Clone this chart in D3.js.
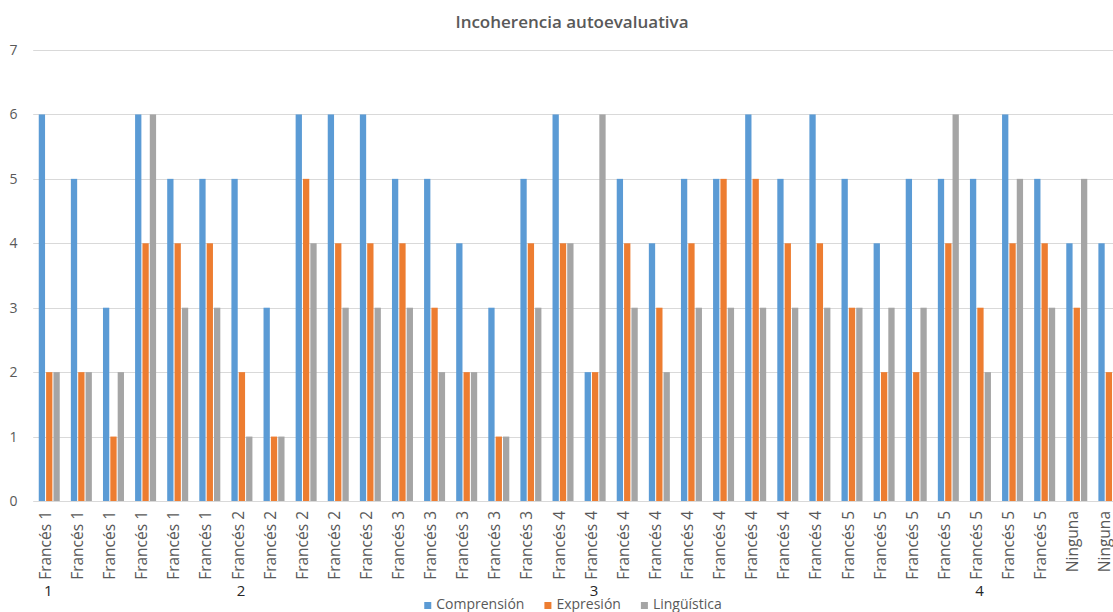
<!DOCTYPE html>
<html>
<head>
<meta charset="utf-8">
<script src="https://cdn.jsdelivr.net/npm/d3@7/dist/d3.min.js"></script>
<style>
  html, body { margin: 0; padding: 0; background: #fff; overflow: hidden; }
  svg { display: block; font-family: "Open Sans", "DejaVu Sans", sans-serif; }
</style>
</head>
<body>
<svg id="chart" width="1113" height="612"></svg>
<script>
// Course level of each respondent
const categories = [
  "Francés 1", "Francés 1", "Francés 1", "Francés 1", "Francés 1", "Francés 1",
  "Francés 2", "Francés 2", "Francés 2", "Francés 2", "Francés 2",
  "Francés 3", "Francés 3", "Francés 3", "Francés 3", "Francés 3",
  "Francés 4", "Francés 4", "Francés 4", "Francés 4", "Francés 4",
  "Francés 4", "Francés 4", "Francés 4", "Francés 4",
  "Francés 5", "Francés 5", "Francés 5", "Francés 5", "Francés 5",
  "Francés 5", "Francés 5",
  "Ninguna", "Ninguna"
];

// Secondary row of axis labels (category index, text)
const groupIndex = [0, 6, 17, 29];
const groupText = ["1", "2", "3", "4"];

const seriesNames = ["Comprensión", "Expresión", "Lingüística"];
const seriesColors = ["#5B9BD5", "#ED7D31", "#A5A5A5"];

const comprension = [6, 5, 3, 6, 5, 5, 5, 3, 6, 6, 6, 5, 5, 4, 3, 5, 6, 2, 5, 4, 5, 5, 6, 5, 6, 5, 4, 5, 5, 5, 6, 5, 4, 4];
const expresion   = [2, 2, 1, 4, 4, 4, 2, 1, 5, 4, 4, 4, 3, 2, 1, 4, 4, 2, 4, 3, 4, 5, 5, 4, 4, 3, 2, 2, 4, 3, 4, 4, 3, 2];
const linguistica = [2, 2, 2, 6, 3, 3, 1, 1, 4, 3, 3, 3, 2, 2, 1, 3, 4, 6, 3, 2, 3, 3, 3, 3, 3, 3, 3, 3, 6, 2, 5, 3, 5, 3];

const yTicks = [0, 1, 2, 3, 4, 5, 6, 7];

const seriesValues = [comprension, expresion, linguistica];

const svg = d3.select("#chart");
const W = 1113;

const plotLeft = 33.2;
const band = 32.11;
const plotTop = 50, plotBottom = 501;

const x = d3.scaleBand()
  .domain(d3.range(categories.length))
  .range([plotLeft, plotLeft + band * categories.length])
  .paddingInner(0).paddingOuter(0);

const y = d3.scaleLinear().domain([0, 7]).range([plotBottom, plotTop]);

// cluster of three columns centred in each band
const clusterW = 21;
const inner = d3.scaleBand()
  .domain(d3.range(seriesNames.length))
  .range([-clusterW / 2, clusterW / 2])
  .paddingInner(1 / 7).paddingOuter(0);

const center = i => x(i) + x.bandwidth() / 2;

// gridlines
svg.append("g")
  .selectAll("line")
  .data(yTicks)
  .join("line")
  .attr("x1", plotLeft).attr("x2", W + 20)
  .attr("y1", d => Math.round(y(d)) + 0.5)
  .attr("y2", d => Math.round(y(d)) + 0.5)
  .attr("stroke", "#D9D9D9")
  .attr("stroke-width", 1);

// y tick labels
svg.append("g")
  .selectAll("text")
  .data(yTicks)
  .join("text")
  .attr("x", 17.5)
  .attr("y", d => y(d))
  .attr("dy", "0.36em")
  .attr("text-anchor", "end")
  .attr("fill", "#595959")
  .style("font-size", "14px")
  .text(d => d);

// columns
const rows = categories.map((c, i) => ({ i, vals: seriesValues.map(s => s[i]) }));
svg.append("g")
  .selectAll("g")
  .data(rows)
  .join("g")
  .attr("transform", d => `translate(${center(d.i)},0)`)
  .selectAll("rect")
  .data(d => d.vals.map((v, s) => ({ v, s })))
  .join("rect")
  .attr("x", d => inner(d.s))
  .attr("width", inner.bandwidth())
  .attr("y", d => y(d.v))
  .attr("height", d => y(0) - y(d.v))
  .attr("fill", d => seriesColors[d.s]);

// category labels, rotated
svg.append("g")
  .selectAll("text")
  .data(categories)
  .join("text")
  .attr("transform", (d, i) => `translate(${center(i) - 4},511) rotate(-90)`)
  .attr("text-anchor", "end")
  .attr("dy", "0.36em")
  .attr("fill", "#595959")
  .style("font-size", "15.5px")
  .text(d => d);

// secondary labels
svg.append("g")
  .selectAll("text")
  .data(groupIndex)
  .join("text")
  .attr("x", d => center(d) - 1)
  .attr("y", 596)
  .attr("text-anchor", "middle")
  .attr("fill", "#262626")
  .style("font-size", "15px")
  .text((d, k) => groupText[k]);

// title
svg.append("text")
  .attr("x", 572)
  .attr("y", 28)
  .attr("text-anchor", "middle")
  .attr("fill", "#595959")
  .style("font-size", "17px")
  .style("font-weight", "600")
  .text("Incoherencia autoevaluativa");

// legend
const legend = svg.append("g");
const items = legend.selectAll("g")
  .data(seriesNames)
  .join("g");
items.append("rect")
  .attr("width", 7).attr("height", 7)
  .attr("y", 602)
  .attr("fill", (d, i) => seriesColors[i]);
items.append("text")
  .attr("x", 12)
  .attr("y", 609)
  .attr("fill", "#595959")
  .style("font-size", "14px")
  .text(d => d);
let offs = [], acc = 0;
items.each(function () {
  offs.push(acc);
  acc += 12 + this.querySelector("text").getComputedTextLength() + 20;
});
const total = acc - 20;
const start = 573 - total / 2;
items.attr("transform", (d, i) => `translate(${start + offs[i]},0)`);
</script>
</body>
</html>
